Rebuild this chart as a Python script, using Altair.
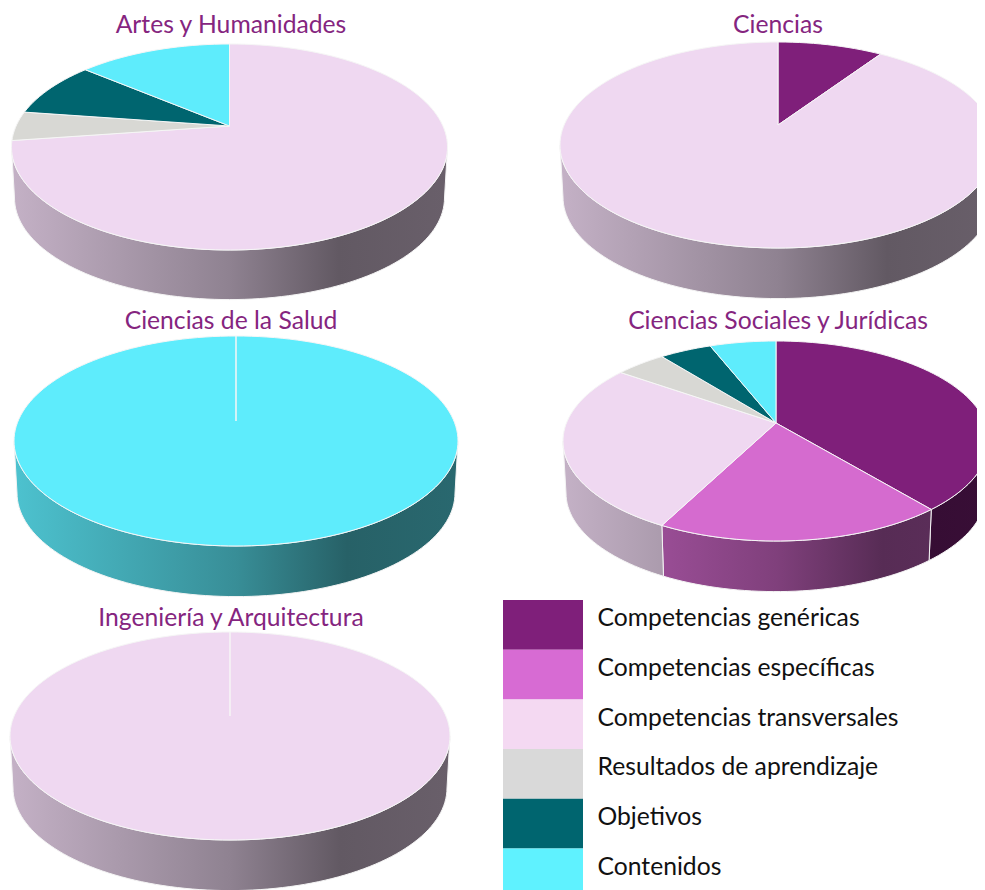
import math
import altair as alt
import pandas as pd

CATEGORIES = ["Competencias genéricas", "Competencias específicas", "Competencias transversales",
              "Resultados de aprendizaje", "Objetivos", "Contenidos"]
PIES = ["Artes y Humanidades", "Ciencias", "Ciencias de la Salud",
        "Ciencias Sociales y Jurídicas", "Ingeniería y Arquitectura"]

artes = [0, 0, 76, 4.5, 8, 11.5]
ciencias = [7.8, 0, 92.2, 0, 0, 0]
salud = [0, 0, 0, 0, 0, 100]
sociales = [37, 22, 28, 4, 4, 5]
ingenieria = [0, 0, 100, 0, 0, 0]
SHARES = [artes, ciencias, salud, sociales, ingenieria]

LEGEND_COLORS = ["#7f1f7a", "#d76bd3", "#f4d9f2", "#d9d9d9", "#00656f", "#5ff2ff"]
TOP_COLORS = ["#7f1f7a", "#d56bcf", "#efd8f1", "#d8d8d4", "#00656f", "#5eecfc"]

# layout: centre x, centre y, radius x, radius y, apex y, wall depth, title x, title y
LAYOUT = [
    (229.5, 147, 218, 103, 126, 51, 231, 25.5),
    (778, 145, 218, 103, 125, 52, 778, 25.5),
    (236, 441, 222, 105, 421, 52, 231, 321.5),
    (776, 441, 213, 100, 423, 52, 778, 321.5),
    (230, 736, 220, 104, 716, 52, 231, 618.5),
]
SHADE = [(0.0, 0.82), (0.5, 0.6), (0.75, 0.41), (1.0, 0.44)]


def shade_at(u):
    for (a, fa), (b, fb) in zip(SHADE, SHADE[1:]):
        if u <= b:
            return fa + (fb - fa) * (u - a) / (b - a)
    return SHADE[-1][1]


def tint(color, f):
    r, g, b = (int(color[i:i + 2], 16) for i in (1, 3, 5))
    return "#%02x%02x%02x" % (round(r * f), round(g * f), round(b * f))


def ell(lay, t, dy=0, dr=0):
    cx, cy, rx, ry = lay[:4]
    a = math.radians(t)
    return cx + (rx - dr) * math.sin(a), cy + dy - (ry - dr * ry / rx) * math.cos(a)


def steps(a, b, d=2.0):
    n = max(1, int(math.ceil((b - a) / d)))
    return [a + (b - a) * i / n for i in range(n + 1)]


top_rows, side_layers = [], []
XS = alt.Scale(domain=[8, 977], nice=False, zero=False)
YS = alt.Scale(domain=[890, 8], nice=False, zero=False)
X = alt.X("x:Q", scale=XS, axis=None)
Y = alt.Y("y:Q", scale=YS, axis=None)

for p, (name, shares, lay) in enumerate(zip(PIES, SHARES, LAYOUT)):
    start = 0.0
    for c, share in zip(range(6), shares):
        if share == 0:
            continue
        end = start + share * 3.6
        pts = [(lay[0], lay[4])] + [ell(lay, t) for t in steps(start, end)]
        for s, (x, y) in enumerate(pts):
            top_rows.append(dict(pie=name, cat=CATEGORIES[c], seq=s, x=x, y=y))
        a, b = max(start, 90.0), min(end, 270.0)
        if a < b:
            ts = steps(a, b)
            wall = [ell(lay, t) for t in ts] + [ell(lay, t, lay[5], 3) for t in reversed(ts)]
            xs = [q[0] for q in wall]
            x0, x1 = min(xs), max(xs)
            left, width = lay[0] - lay[2], 2 * lay[2]
            u0, u1 = (x0 - left) / width, (x1 - left) / width
            knots = [u0] + [k for k, _ in SHADE if u0 < k < u1] + [u1]
            stops = [{"offset": (k - u0) / (u1 - u0), "color": tint(TOP_COLORS[c], shade_at(k))} for k in knots]
            side_layers.append(
                alt.Chart(pd.DataFrame([dict(seq=i, x=q[0], y=q[1]) for i, q in enumerate(wall)]))
                .mark_line(interpolate="linear-closed", stroke="#f4f4f4", strokeWidth=1, clip=True,
                           fill={"gradient": "linear", "x1": 0, "y1": 0, "x2": 1, "y2": 0, "stops": stops})
                .encode(x=X, y=Y, order="seq:Q")
            )
        start = end

top = (
    alt.Chart(pd.DataFrame(top_rows))
    .mark_line(interpolate="linear-closed", stroke="#f6f6f6", strokeWidth=1, clip=True)
    .encode(x=X, y=Y, order="seq:Q", detail="pie:N",
            fill=alt.Fill("cat:N", scale=alt.Scale(domain=CATEGORIES, range=TOP_COLORS), legend=None))
)

titles = (
    alt.Chart(pd.DataFrame([dict(t=n, x=l[6], y=l[7]) for n, l in zip(PIES, LAYOUT)]))
    .mark_text(font="Lato", fontSize=24.7, color="#85257f", align="center", baseline="middle")
    .encode(x=X, y=Y, text="t:N")
)

ROW_TOP = 600
ROW_H = 49.7
legend_df = pd.DataFrame([dict(cat=c, x=503, x2=583, y=ROW_TOP + i * ROW_H, y2=ROW_TOP + (i + 1) * ROW_H,
                               tx=597.5, ty=ROW_TOP + (i + 0.39) * ROW_H) for i, c in enumerate(CATEGORIES)])
swatches = (
    alt.Chart(legend_df).mark_rect(clip=True)
    .encode(x=X, x2="x2:Q", y=Y, y2="y2:Q",
            color=alt.Color("cat:N", scale=alt.Scale(domain=CATEGORIES, range=LEGEND_COLORS), legend=None))
)
labels = (
    alt.Chart(legend_df).mark_text(font="Lato", fontSize=24.7, color="#111111", align="left", baseline="middle")
    .encode(x=alt.X("tx:Q", scale=XS, axis=None),
            y=alt.Y("ty:Q", scale=YS, axis=None), text="cat:N")
)

chart = (
    alt.layer(*side_layers, top, titles, swatches, labels)
    .properties(width=969, height=882, padding=0, background="white")
    .configure_view(stroke=None)
)
chart.save("out.html", embed_options={"renderer": "svg", "actions": False})
